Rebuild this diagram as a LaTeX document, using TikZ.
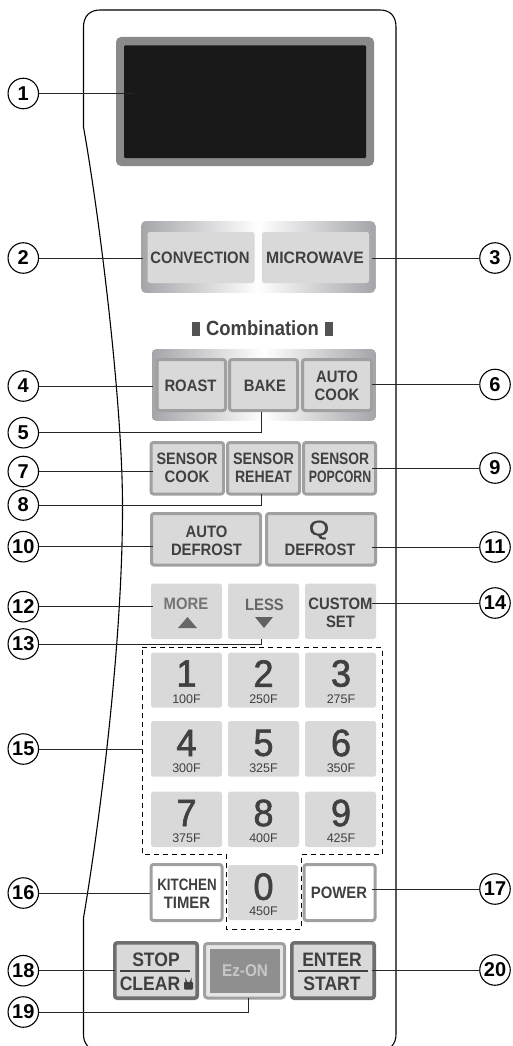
\documentclass[tikz,border=0pt]{standalone}
\usepackage{fontspec}
\setmainfont{Liberation Sans}[FakeStretch=0.9]
\newfontfamily\plainsans{Liberation Sans}
\newfontfamily\digitsans{Liberation Sans}[FakeStretch=0.95,FakeBold=1.6]
\definecolor{keyfill}{HTML}{D9D9D9}
\definecolor{framegray}{HTML}{A0A0A0}
\definecolor{darkframe}{HTML}{6E6E6E}
\definecolor{inktext}{HTML}{404040}
\definecolor{bandedge}{HTML}{A4A5A9}
\newcommand{\fsz}[1]{\fontsize{#1}{#1}\selectfont}
\newcommand{\hsc}[2]{\scalebox{#1}[1]{#2}}
\tikzset{
  key/.style={fill=keyfill,rounded corners=2.5pt,inner sep=0pt,outer sep=0pt},
  framed/.style={key,draw=framegray,line width=3pt},
  whitekey/.style={framed,fill=white},
  heavykey/.style={key,draw=darkframe,line width=3.6pt},
  lbl/.style={inner sep=0pt,outer sep=0pt,align=center,text=inktext,font=\bfseries\fsz{16.5},execute at begin node={\baselineskip=18pt}},
  biglbl/.style={lbl,font=\bfseries\fsz{19.5}},
  digit/.style={lbl,font=\digitsans\fsz{38}},
  subl/.style={lbl,font=\plainsans\fsz{12.5}},
  callout/.style={circle,draw=black,line width=1.1pt,fill=white,minimum size=30.5pt,inner sep=0pt,outer sep=0pt,text=black,font=\plainsans\bfseries\fsz{20}},
  lead/.style={draw=black!85,line width=1pt},
}
\newcommand{\btn}[7]{%
  \pgfmathsetmacro\cxx{(#3+#5)/2}\pgfmathsetmacro\cyy{(#4+#6)/2}%
  \pgfmathsetmacro\www{#5-#3-2*#7}\pgfmathsetmacro\hhh{#6-#4-2*#7}%
  \node[#1,minimum width=\www pt,minimum height=\hhh pt] (#2) at (\cxx,\cyy) {};}
% metallic band: edges grey, centre white, drawn as thin strips
\newcommand{\gradband}[4]{%
  \begin{scope}
    \clip[rounded corners=5pt] (#1,#2) rectangle (#3,#4);
    \pgfmathsetmacro\bandc{(#1+#3)/2}\pgfmathsetmacro\bandh{(#3-#1)/2}%
    \pgfmathsetmacro\bandn{int((#3-#1)/1.5)}%
    \foreach \i in {0,...,\bandn}{%
      \pgfmathsetmacro\sx{#1+1.5*\i}%
      \pgfmathsetmacro\pct{max(0,min(100,100*(1-abs(\sx+0.75-\bandc)/\bandh)))}%
      \fill[white!\pct!bandedge] (\sx,#2) rectangle (\sx+2,#4);
    }
  \end{scope}}
\begin{document}
\begin{tikzpicture}[x=1pt,y=-1pt]
\useasboundingbox (0,0) rectangle (513,1046);
% panel outline
\draw[black,line width=1.1pt] (88,1046.5) .. controls (85,1043) and (83.5,1040) .. (83.5,1034)
  -- (83.5,918) .. controls (100,820) and (123,640) .. (122.5,503)
  .. controls (122,400) and (100,220) .. (83.5,127) -- (83.5,27)
  .. controls (83.5,16) and (90,10) .. (100,10) -- (380,10)
  .. controls (390,10) and (396,16) .. (396,27) -- (396,1034)
  .. controls (396,1040) and (394.5,1043) .. (391.5,1046.5);
% display
\btn{key,fill=black!46,rounded corners=5pt}{dispouter}{116}{37}{374}{166}{0}
\btn{key,fill=black!90,rounded corners=1pt}{dispinner}{124}{45.5}{366}{158}{0}
% bands
\gradband{141}{221}{375.5}{293}
\gradband{151.5}{349}{376}{421}
\btn{key}{conv}{147.5}{232}{254.5}{283}{0}
\btn{key}{micro}{262}{232}{369}{283}{0}
\node[lbl] (convT) at (200,258) {CONVECTION};
\node[lbl] (microT) at (315,258) {\hsc{1.06}{MICROWAVE}};
% combination
\node[lbl,font=\bfseries\fsz{20.5}] (comb) at (262.5,328.5) {Combination};
\fill[inktext!90] (192,322) rectangle (200,336);
\fill[inktext!90] (325,322) rectangle (333,336);
% row 4-6
\btn{framed}{roast}{155.5}{358}{227}{412}{1.5}
\btn{framed}{bake}{228}{358}{299}{412}{1.5}
\btn{framed}{auto}{301}{358}{373}{412}{1.5}
\node[lbl] (roastT) at (190.5,386) {ROAST};
\node[lbl] (bakeT) at (265,386) {BAKE};
\node[lbl] (autoT) at (337,385.5) {AUTO\\COOK};
% sensor
\btn{framed}{sa}{149.5}{441}{225}{495.5}{1.5}
\btn{framed}{sb}{226}{441}{301}{495.5}{1.5}
\btn{framed}{sc}{302}{441}{377}{495.5}{1.5}
\node[lbl] (saT) at (187,468) {\hsc{.97}{SENSOR}\\COOK};
\node[lbl] (sbT) at (263.5,468) {\hsc{.97}{SENSOR}\\\hsc{.95}{REHEAT}};
\node[lbl] (scT) at (340,468) {\hsc{.93}{SENSOR}\\\hsc{.83}{POPCORN}};
% defrost
\btn{framed}{da}{150}{512}{262}{566.5}{1.5}
\btn{framed}{db}{265}{512}{377}{566.5}{1.5}
\node[lbl] (daT) at (206.5,540.5) {AUTO\\DEFROST};
\node[lbl,font=\digitsans\fsz{21}] (qT) at (319,530) {\hsc{1.3}{Q}};
\node[lbl] (dbT) at (320,549.5) {DEFROST};
% more / less / custom
\btn{key}{more}{151}{583.5}{222}{639}{0}
\btn{key}{less}{228}{583.5}{299}{639}{0}
\btn{key}{cust}{305}{583.5}{376}{639}{0}
\node[lbl,text=black!55] (moreT) at (186,604) {MORE};
\node[lbl,text=black!60] (lessT) at (264.5,605) {LESS};
\node[lbl] (custT) at (340.5,613) {CUSTOM\\SET};
\fill[black!60] (178,628) -- (187.5,617) -- (197,628) -- cycle;
\fill[black!62] (255,617) -- (273,617) -- (264,628) -- cycle;
% dashed keypad outline
\draw[black,line width=1pt,dash pattern=on 5pt off 4pt] (142,647.7) -- (382,647.7) -- (382,854.7) -- (301,854.7) -- (301,929) -- (226,929) -- (226,854.7) -- (142,854.7) -- cycle;
% digits
\btn{key}{k1}{151}{652.7}{222}{707.7}{0}
\btn{key}{k2}{228}{652.7}{299}{707.7}{0}
\btn{key}{k3}{305}{652.7}{376}{707.7}{0}
\btn{key}{k4}{151}{721}{222}{776.7}{0}
\btn{key}{k5}{228}{721}{299}{776.7}{0}
\btn{key}{k6}{305}{721}{376}{776.7}{0}
\btn{key}{k7}{151}{791.7}{222}{847}{0}
\btn{key}{k8}{228}{791.7}{299}{847}{0}
\btn{key}{k9}{305}{791.7}{376}{847}{0}
\btn{key}{k0}{228}{865}{298}{920}{0}
\node[digit] (d1) at (186.5,673.5) {1};\node[subl] (s1) at (186.5,699) {100F};
\node[digit] (d2) at (263.5,673.5) {2};\node[subl] (s2) at (263.5,699) {250F};
\node[digit] (d3) at (341,673.5) {3};\node[subl] (s3) at (341,699) {275F};
\node[digit] (d4) at (186.5,743) {4};\node[subl] (s4) at (186.5,768) {300F};
\node[digit] (d5) at (263.5,743) {5};\node[subl] (s5) at (263.5,768) {325F};
\node[digit] (d6) at (341,743) {6};\node[subl] (s6) at (341,768) {350F};
\node[digit] (d7) at (186.5,813) {7};\node[subl] (s7) at (186.5,838) {375F};
\node[digit] (d8) at (263.5,813) {8};\node[subl] (s8) at (263.5,838) {400F};
\node[digit] (d9) at (341,813) {9};\node[subl] (s9) at (341,838) {425F};
\node[digit] (d0) at (263.5,886.7) {0};\node[subl] (s0) at (263.5,911.5) {450F};
% kitchen / power
\btn{whitekey}{kit}{149.5}{863}{223.5}{922}{1.5}
\btn{whitekey}{pow}{302.5}{863}{376.5}{922}{1.5}
\node[lbl] (kitT) at (187,894) {\hsc{.9}{KITCHEN}\\TIMER};
\node[lbl] (powT) at (339,893) {POWER};
% bottom row
\btn{heavykey}{stop}{113}{941}{199}{1000}{1.8}
\btn{framed,fill=black!10,rounded corners=3pt}{ez}{203}{942}{286}{999.5}{1.5}
\btn{heavykey}{ent}{290}{941}{376}{1000}{1.8}
\btn{key,fill=black!44,rounded corners=0pt}{ezin}{209.5}{949}{279.5}{993}{0}
\node[biglbl] (stopT) at (156,959.3) {STOP};
\node[biglbl] (clrT) at (150,984) {CLEAR};
\node[biglbl] (entT) at (332,959.5) {ENTER};
\node[biglbl] (strT) at (332,984) {START};
\node[lbl,text=black!22,font=\bfseries\fsz{17}] (ezT) at (245,970.5) {Ez-ON};
\draw[inktext,line width=1.2pt] (120,971) -- (190,971);
\draw[inktext,line width=1.2pt] (298,971) -- (368,971);
\fill[inktext,rounded corners=0.8pt] (184,982) rectangle (193,989.5);
\draw[inktext,line width=1.2pt] (186,982.5) -- (186,980.5) arc (180:0:2.5) -- (191,982.5);
% callouts
\foreach \n/\xx/\yy in {1/23.3/93.5,2/23.3/258,3/495/258,4/23.3/386,5/23.3/432.7,6/495/384.5,7/23.3/471.5,8/23.3/505,9/495/468,10/23.3/546.7,11/495/547,12/23.3/606.7,13/23.3/644,14/495/603,15/23.3/749,16/23.3/893,17/495/889,18/23.3/970.7,19/23.3/1012,20/495/970}
  \node[callout] (c\n) at (\xx,\yy) {\n};
\coordinate (e1) at (134,93.5);
\coordinate (e2) at (143,258);
\coordinate (e3) at (372,258);
\coordinate (e4) at (153,386);
\coordinate (e5) at (261,412);
\coordinate (e6) at (372,384.5);
\coordinate (e7) at (153,471.5);
\coordinate (e8) at (261,494);
\coordinate (e9) at (372,468);
\coordinate (e10) at (153,546.7);
\coordinate (e11) at (372,547);
\coordinate (e12) at (153,606.7);
\coordinate (e13) at (261,639);
\coordinate (e14) at (372,603);
\coordinate (e15) at (143,749);
\coordinate (e16) at (150,893);
\coordinate (e17) at (372,889);
\coordinate (e18) at (115,970.7);
\coordinate (e19) at (248,998);
\coordinate (e20) at (372,970);
\foreach \n in {1,2,3,4,6,7,9,10,11,12,14,15,16,17,18,20}
  \draw[lead] (c\n) -- (e\n);
\foreach \n in {5,8,13,19}
  \draw[lead] (c\n) -| (e\n);
\end{tikzpicture}
\end{document}
